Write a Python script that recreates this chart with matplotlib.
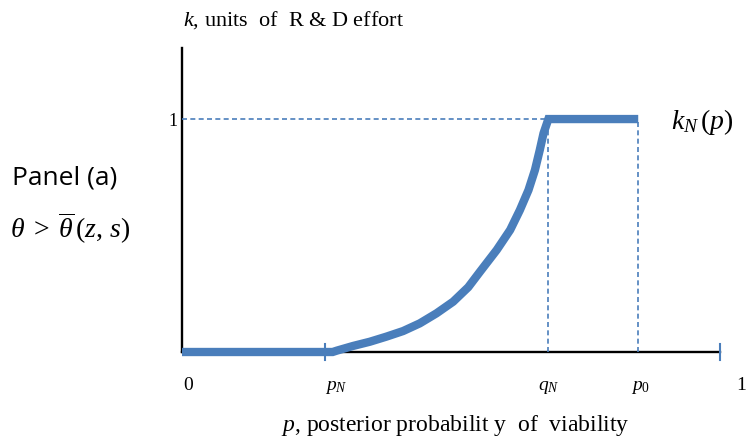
import numpy as np
import matplotlib.pyplot as plt

plt.rcParams['mathtext.fontset'] = 'custom'
plt.rcParams['mathtext.rm'] = 'Liberation Serif'
plt.rcParams['mathtext.it'] = 'Liberation Serif:italic'
plt.rcParams['font.family'] = 'Liberation Serif'

# thresholds on the p axis
p_n = 0.266
q_n = 0.680
p_0 = 0.848

# k_N(p)
p_vals = [0.0, 0.266, 0.280, 0.288, 0.318, 0.349, 0.380, 0.411, 0.442,
          0.473, 0.504, 0.532, 0.554, 0.585, 0.610, 0.628, 0.644, 0.656,
          0.665, 0.672, 0.681, 0.848]
k_vals = [0.0, 0.0, 0.0, 0.006, 0.026, 0.044, 0.066, 0.090, 0.123,
          0.166, 0.216, 0.278, 0.345, 0.438, 0.524, 0.609, 0.695, 0.781,
          0.867, 0.939, 1.0, 1.0]

blue = '#4a7ebb'
W, H = 748, 445

fig = plt.figure(figsize=(W / 100, H / 100), dpi=100)
ax = fig.add_axes([182 / W, 93 / H, 538 / W, 304 / H])
ax.set_xlim(0, 1)
ax.set_ylim(0, 1.305)
ax.axis('off')

# axes
ax.plot([0, 0], [0, 1.305], color='black', lw=1.7, clip_on=False)
ax.plot([0, 1], [0, 0], color='black', lw=1.7, clip_on=False)

# dashed guides
ax.plot([0, q_n], [1.0, 1.0], color=blue, lw=1.2, dashes=(3, 2), clip_on=False)
ax.plot([q_n, q_n], [0, 1.0], color=blue, lw=1.2, dashes=(3, 2), clip_on=False)
ax.plot([p_0, p_0], [0, 1.0], color=blue, lw=1.2, dashes=(3, 2), clip_on=False)

# ticks
for xt in [p_n, 1.0]:
    ax.plot([xt, xt], [-0.036, 0.036], color=blue, lw=1.5, clip_on=False)

# main curve
ax.plot(p_vals, k_vals, color=blue, lw=6, solid_joinstyle='miter',
        solid_capstyle='butt', clip_on=False)


def px(x, y, s, **kw):
    fig.text(x / W, 1 - y / H, s, **kw)


px(183, 20, r'$k$, units  of  R & D effort', fontsize=16, ha='left', va='center')
px(178, 121, '1', fontsize=13, ha='right', va='center')
px(12, 178, 'Panel (a)', fontsize=19, ha='left', va='center', family='Open Sans')
px(10, 228, r'$\theta\;>\;\overline{\theta}\,(z,\,s)$', fontsize=20, ha='left', va='center')
px(671, 122, r'$k_N\,(p)$', fontsize=20, ha='left', va='center')

px(188, 385, '0', fontsize=14, ha='center', va='center')
px(336, 387, r'$p_N$', fontsize=14, ha='center', va='center')
px(549, 387, r'$q_N$', fontsize=14, ha='center', va='center')
px(641, 387, r'$p_0$', fontsize=14, ha='center', va='center')
px(741, 385, '1', fontsize=14, ha='center', va='center')
px(455, 425, r'$p$, posterior probabilit y  of  viability', fontsize=17, ha='center', va='center')

fig.savefig('out.png', dpi=100)
